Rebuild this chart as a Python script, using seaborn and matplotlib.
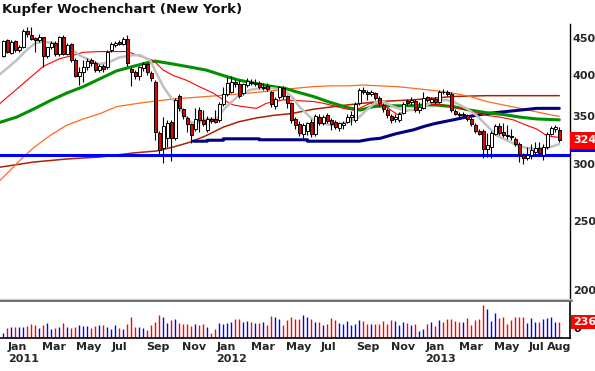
import numpy as np
import pandas as pd
import matplotlib
matplotlib.use("Agg")
import matplotlib.pyplot as plt
import matplotlib.dates as mdates
import matplotlib.transforms as mtransforms
from matplotlib.lines import Line2D
from matplotlib.ticker import NullLocator
import seaborn as sns

TITLE = "Kupfer Wochenchart (New York)"
FIRST_WEEK = "2010-12-24"   # weekly bars, Friday dates

# weekly candles (USc/lb)
opens = [425, 447, 429, 446, 433, 438, 460, 455, 450, 448,
         451, 425, 437, 443, 427, 452, 428, 441, 420, 399,
         404, 410, 419, 415, 406, 411, 410, 433, 440, 444,
         442, 449, 408, 404, 399, 409, 414, 402, 391, 332,
         316, 326, 344, 326, 374, 358, 348, 341, 336, 357,
         346, 335, 347, 347, 346, 364, 376, 379, 391, 388,
         377, 387, 391, 388, 390, 383, 386, 378, 362, 372,
         383, 373, 365, 347, 341, 331, 334, 344, 331, 349,
         342, 351, 346, 344, 337, 340, 344, 349, 346, 365,
         381, 378, 376, 377, 371, 363, 357, 350, 347, 346,
         354, 368, 366, 368, 357, 360, 372, 367, 370, 367,
         379, 378, 376, 356, 353, 351, 351, 347, 340, 334,
         334, 315, 317, 331, 339, 333, 330, 328, 325, 320,
         309, 306, 309, 312, 316, 309, 317, 331, 336, 335]
highs = [447, 449, 447, 448, 440, 464, 466, 466, 452, 456,
         452, 438, 446, 446, 453, 454, 443, 443, 422, 410,
         419, 422, 422, 418, 414, 414, 433, 445, 446, 447,
         452, 454, 410, 406, 412, 417, 416, 405, 393, 334,
         349, 346, 346, 371, 376, 360, 350, 343, 359, 361,
         357, 350, 349, 357, 366, 384, 397, 399, 394, 393,
         390, 396, 394, 395, 392, 390, 390, 380, 372, 386,
         386, 375, 367, 349, 345, 342, 344, 347, 352, 352,
         351, 354, 348, 346, 344, 345, 352, 356, 366, 383,
         384, 381, 381, 379, 373, 365, 359, 352, 352, 355,
         366, 370, 372, 370, 366, 378, 374, 372, 372, 381,
         382, 381, 378, 358, 355, 355, 353, 349, 342, 336,
         336, 332, 334, 341, 343, 342, 340, 336, 327, 322,
         311, 317, 320, 322, 322, 320, 333, 339, 340, 338]
lows = [424, 429, 427, 431, 431, 436, 452, 447, 431, 445,
        410, 422, 434, 425, 425, 426, 426, 417, 397, 387,
        391, 406, 412, 404, 403, 404, 408, 430, 438, 440,
        440, 412, 386, 394, 393, 405, 400, 392, 324, 308,
        301, 317, 303, 324, 356, 347, 333, 321, 334, 333,
        339, 333, 343, 342, 344, 362, 374, 377, 385, 371,
        375, 384, 387, 386, 382, 381, 380, 361, 358, 370,
        370, 360, 343, 336, 328, 326, 330, 327, 328, 340,
        340, 343, 335, 336, 334, 336, 342, 340, 344, 363,
        376, 369, 374, 369, 362, 355, 348, 342, 344, 344,
        352, 363, 363, 355, 354, 358, 366, 365, 364, 365,
        376, 374, 355, 351, 349, 349, 345, 339, 332, 329,
        306, 307, 306, 329, 330, 327, 325, 324, 318, 302,
        300, 304, 305, 309, 308, 304, 315, 329, 333, 322]
closes = [446, 431, 444, 433, 437, 461, 456, 449, 447, 451,
          425, 437, 443, 427, 451, 428, 440, 419, 399, 403,
          410, 418, 415, 406, 411, 408, 431, 441, 443, 442,
          449, 415, 403, 398, 410, 414, 403, 396, 333, 314,
          339, 343, 326, 369, 359, 350, 341, 330, 347, 346,
          341, 347, 345, 344, 364, 376, 390, 391, 388, 374,
          388, 392, 389, 390, 384, 385, 382, 364, 370, 384,
          374, 365, 346, 340, 332, 340, 343, 331, 350, 342,
          349, 345, 341, 338, 342, 343, 349, 351, 364, 381,
          378, 376, 378, 371, 365, 358, 351, 346, 349, 353,
          364, 365, 369, 357, 361, 371, 369, 370, 367, 379,
          378, 376, 357, 353, 351, 353, 347, 341, 334, 331,
          315, 319, 332, 339, 332, 330, 328, 327, 320, 310,
          306, 309, 314, 316, 311, 317, 331, 337, 338, 324]
volumes = [74, 147, 162, 162, 162, 162, 176, 206, 191, 147,
           191, 221, 132, 147, 162, 221, 162, 147, 162, 191,
           176, 176, 147, 176, 191, 191, 162, 132, 191, 147,
           132, 206, 309, 162, 162, 147, 118, 191, 235, 338,
           309, 221, 265, 279, 221, 206, 206, 176, 206, 191,
           206, 162, 74, 132, 221, 206, 221, 235, 279, 279,
           235, 250, 235, 221, 221, 235, 191, 323, 309, 279,
           191, 265, 309, 279, 279, 338, 309, 279, 235, 235,
           191, 206, 294, 265, 221, 206, 250, 191, 206, 265,
           250, 206, 206, 206, 206, 250, 206, 265, 250, 191,
           235, 221, 191, 206, 103, 132, 206, 235, 176, 265,
           235, 279, 279, 250, 235, 235, 294, 191, 265, 279,
           485, 426, 250, 368, 294, 309, 206, 265, 309, 309,
           309, 221, 294, 235, 235, 279, 294, 309, 235, 236]

# moving averages, read at bar positions (bar index, price)
gray_idx = [-1, 3.3, 5.8, 8, 10, 12.5, 15, 17, 19, 21.7, 24, 26.7, 29, 32.5,
            34.2, 36.7, 38.3, 40, 41.7, 43.3, 45, 46.7, 48.3, 50.8, 53.3, 55,
            56.7, 59, 61.7, 64.2, 67.5, 70.4, 72.5, 74, 75.8, 77.5, 80, 82.5,
            85, 87.5, 89, 90.8, 93.3, 95, 97.5, 100, 102.5, 104, 107.5, 110.8,
            113.3, 115.8, 118.3, 120.8, 123.3, 125.8, 128.3, 130.8, 133.3,
            135.8, 137.5, 139]
gray_val = [400, 419, 433, 443, 445, 443, 440, 435, 426, 419, 414, 417, 423, 426,
            426, 419, 402, 385, 373, 365, 353, 344, 342, 347, 347, 357,
            365, 375, 381, 383, 383, 380, 371, 361, 353, 346, 342, 340,
            342, 346, 349, 357, 367, 367, 361, 357, 357, 358, 367, 369,
            365, 359, 351, 340, 329, 324, 319, 316, 315,
            316, 318, 320]
red_idx = [-1, 10, 14, 17.5, 20, 24, 31, 32.5, 35, 37.5, 40, 42.5, 45.8, 49,
           52.5, 55, 57.5, 60, 63.3, 65.8, 70, 74, 77.5, 80, 82.5, 85, 87.5,
           89, 91.7, 95, 98.5, 101.5, 104.8, 106.5, 109, 111.5, 114, 117.5,
           120.8, 124.2, 127.5, 130.8, 133.3, 135.8, 137, 139]
red_val = [364, 411, 421, 426, 430, 431, 431, 428, 423, 419, 406, 399, 393, 385,
           377, 369, 363, 361, 359, 365, 369, 368, 367, 365, 362, 359, 357,
           359, 365, 363, 352, 357, 360, 363, 364, 361, 359, 355,
           351, 349, 346, 340, 336, 329, 328, 327]
green_idx = [-1, 3.3, 7.5, 11.7, 15.8, 20, 24.2, 28.3, 32.5, 35.4, 38, 42.5,
             46.7, 50.8, 55, 59, 63.2, 67.5, 70.4, 73, 77.5, 81.7, 86, 89.2,
             92.5, 95.8, 99.2, 102.5, 105.4, 108, 112.5, 116.7, 120.8, 125,
             129.2, 133.3, 139]
green_val = [343, 349, 358, 368, 377, 385, 395, 405, 411, 415, 418, 414,
             410, 406, 399, 393, 389, 385, 383, 379, 373, 366, 360, 357,
             361, 362, 362, 362, 363, 363, 361, 357, 354, 352,
             349, 347, 346]
orange_idx = [-1, 1.7, 4.2, 7.5, 11.7, 15.8, 20, 24.2, 28.3, 32.5, 35.4, 42.5,
              50.8, 59, 67.5, 73, 77.5, 81.7, 86, 90, 94, 98.3, 102.5, 108,
              112.5, 116.7, 120.8, 125, 129.2, 133.3, 137.5, 139]
orange_val = [284, 294, 304, 316, 329, 340, 347, 353, 361, 364, 366, 370,
              373, 376, 380, 383, 385, 386, 386, 387, 386, 385, 383, 380,
              377, 373, 367, 363, 359, 355, 351, 350]
brown_idx = [-1, 7.5, 15.8, 24.2, 32.5, 38.3, 42.5, 46.7, 50.8, 55, 59, 63.2,
             67.5, 72, 77.5, 86, 94, 102.5, 112.5, 120.8, 139]
brown_val = [297, 302, 305, 307, 311, 313, 317, 322, 329, 338, 344, 348,
             351, 353, 358, 363, 367, 369, 373, 374, 374]
navy_idx = [47.5, 51, 51, 55, 55, 64, 64, 76, 76, 89, 91.7, 94.2, 98.3, 102.5,
            105.4, 108, 112.5, 116.7, 120.8, 125, 129.2, 133.3, 139]
navy_val = [323, 323, 324, 324, 325.5, 325.5, 324.5, 324.5, 323, 323, 325, 326,
            331, 335, 339, 342, 346, 350, 353, 355, 357, 359, 359]

SUPPORT = 309
LAST_PRICE = "324"
SUPPORT_LABEL = "309"
LAST_VOLUME = "236."
PRICE_TICKS = [200, 250, 300, 350, 400, 450]
MONTH_TICKS = ["2011-01-01", "2011-03-01", "2011-05-01", "2011-07-01", "2011-09-01",
               "2011-11-01", "2012-01-01", "2012-03-01", "2012-05-01", "2012-07-01",
               "2012-09-01", "2012-11-01", "2013-01-01", "2013-03-01", "2013-05-01",
               "2013-07-01", "2013-08-01"]
MONTH_LABELS = ["Jan\n2011", "Mar", "May", "Jul", "Sep", "Nov",
                "Jan\n2012", "Mar", "May", "Jul", "Sep", "Nov",
                "Jan\n2013", "Mar", "May", "Jul", "Aug"]

sns.set_style("white")
plt.rcParams["font.family"] = ["DejaVu Sans"]
plt.rcParams["font.weight"] = "bold"

W, H = 595, 371
fig = plt.figure(figsize=(W / 100, H / 100), dpi=100)
ax = fig.add_axes([0, 1 - 298 / H, 570 / W, (298 - 24) / H])
axv = fig.add_axes([0, 1 - 338 / H, 570 / W, (338 - 302) / H])

x0 = mdates.date2num(pd.Timestamp(FIRST_WEEK))
o = np.array(opens, float)
h = np.array(highs, float)
l = np.array(lows, float)
c = np.array(closes, float)
xs = x0 + 7.0 * np.arange(len(c))
up = c >= o

# 4 px per week, first bar 3.3 px from the left edge
day_px = 4.0 / 7.0
xlim = (x0 - 3.3 / day_px, x0 + (570 - 3.3) / day_px)

ax.set_yscale("log")
ax.set_ylim(195, 471)
ax.set_xlim(*xlim)

ma_lines = [
    (brown_idx, brown_val, "#a82400", 1.1),
    (orange_idx, orange_val, "#ff6a20", 0.9),
    (navy_idx, navy_val, "#000080", 2.2),
    (green_idx, green_val, "#009000", 2.2),
    (red_idx, red_val, "#ff0000", 0.8),
    (gray_idx, gray_val, "#c0c0c0", 1.8),
]
for idx, val, col, lw in ma_lines:
    sns.lineplot(x=x0 + 7.0 * np.array(idx), y=val, ax=ax, color=col,
                 linewidth=lw, estimator=None, sort=False, legend=False, zorder=2)

ax.axhline(SUPPORT, color="#0000ff", linewidth=2.2, zorder=3)

# candles
ax.vlines(xs, l, h, color="black", linewidth=0.8, zorder=4)
body = np.maximum(np.abs(c - o), 0.6)
ax.bar(xs, body, bottom=np.minimum(o, c), width=4.6,
       color=np.where(up, "white", "#e80000"), edgecolor="black",
       linewidth=0.7, zorder=5)

ax.yaxis.tick_right()
ax.set_yticks(PRICE_TICKS)
ax.set_yticklabels([str(t) for t in PRICE_TICKS])
ax.yaxis.set_minor_locator(NullLocator())
ax.tick_params(axis="y", length=0, pad=2, labelsize=8)
ax.set_xticks([])
for s in ["top", "left", "bottom"]:
    ax.spines[s].set_visible(False)
ax.spines["right"].set_color("black")
ax.spines["right"].set_linewidth(1.0)

# price labels at the right edge: the support label sits mostly under the last price
lab_tr = mtransforms.blended_transform_factory(ax.transAxes, ax.transData)
lab_tr = lab_tr + mtransforms.ScaledTranslation(3 / 100, 0, fig.dpi_scale_trans)
ax.text(1.0, 320.5, SUPPORT_LABEL, transform=lab_tr, ha="left", va="center",
        fontsize=8, color="white", zorder=6, clip_on=False,
        bbox=dict(boxstyle="square,pad=0.3", fc="#0000ff", ec="none"))
ax.text(1.0, 324, LAST_PRICE, transform=lab_tr, ha="left", va="center",
        fontsize=8, color="white", zorder=7, clip_on=False,
        bbox=dict(boxstyle="square,pad=0.3", fc="#ff0000", ec="none"))

# volume panel
axv.set_xlim(*xlim)
axv.set_ylim(0, 531)
axv.vlines(xs, 0, volumes, colors=np.where(up, "#0000ff", "#ff0000"), linewidth=1.0)
axv.set_yticks([])
for s in ["top", "left"]:
    axv.spines[s].set_visible(False)
for s in ["right", "bottom"]:
    axv.spines[s].set_color("black")
    axv.spines[s].set_linewidth(1.2)

axv.set_xticks(mdates.date2num(pd.to_datetime(MONTH_TICKS)))
axv.set_xticklabels(MONTH_LABELS, ha="left", fontsize=8, fontweight="bold")
axv.tick_params(axis="x", length=0, pad=3)

vtr = mtransforms.blended_transform_factory(axv.transAxes, axv.transData)
vtr = vtr + mtransforms.ScaledTranslation(3 / 100, 4 / 100, fig.dpi_scale_trans)
axv.text(1.0, 0, "0", transform=vtr, ha="left", va="bottom", fontsize=8,
         color="black", zorder=5, clip_on=False)
vtr2 = mtransforms.blended_transform_factory(axv.transAxes, axv.transData)
vtr2 = vtr2 + mtransforms.ScaledTranslation(3 / 100, 0, fig.dpi_scale_trans)
axv.text(1.0, 236, LAST_VOLUME, transform=vtr2, ha="left", va="center",
         fontsize=8, color="white", zorder=6, clip_on=False,
         bbox=dict(boxstyle="square,pad=0.2", fc="#ff0000", ec="none"))

# panel separator
fig.add_artist(Line2D([0, 572 / W], [1 - 299 / H] * 2, color="#cccccc", linewidth=1.0))
fig.add_artist(Line2D([0, 572 / W], [1 - 301 / H] * 2, color="#6e6e6e", linewidth=1.4))

fig.text(2 / W, 1 - 13 / H, TITLE, ha="left", va="baseline", fontsize=9.5,
         fontweight="bold", color="#111111")

fig.savefig("out.png", dpi=100, facecolor="white")
